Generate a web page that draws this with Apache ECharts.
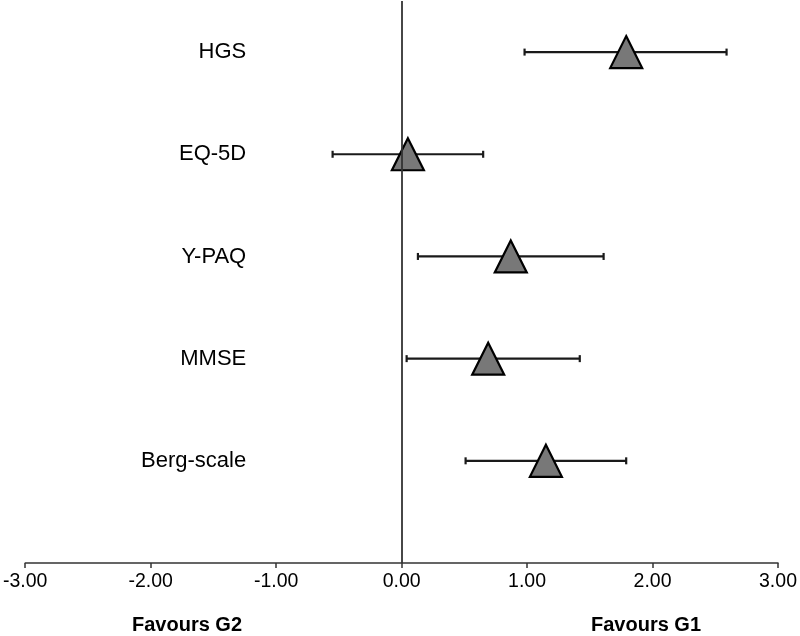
<!DOCTYPE html>
<html>
<head>
<meta charset="utf-8">
<script src="https://cdn.jsdelivr.net/npm/echarts@6/dist/echarts.min.js"></script>
<style>html,body{margin:0;padding:0;background:#fff}#c{width:800px;height:636px}</style>
</head>
<body>
<div id="c"></div>
<script>
const categories = ['HGS', 'EQ-5D', 'Y-PAQ', 'MMSE', 'Berg-scale'];
const estimates = [1.79, 0.05, 0.87, 0.69, 1.15];
const lower = [0.98, -0.55, 0.13, 0.04, 0.51];
const upper = [2.59, 0.65, 1.61, 1.42, 1.79];
const xTickValues = [-3, -2, -1, 0, 1, 2, 3];
const sideLabels = ['Favours G2', 'Favours G1'];

const FONT = '"Liberation Sans", Arial, Helvetica, sans-serif';
const n = categories.length;
const yPos = categories.map((c, i) => n - i);
const nameAt = {};
categories.forEach((c, i) => { nameAt[yPos[i]] = c; });

const chart = echarts.init(document.getElementById('c'), null, {renderer: 'canvas'});
chart.setOption({
  animation: false,
  backgroundColor: '#fff',
  grid: {left: 24, right: 22, top: 1, bottom: 73},
  xAxis: {
    type: 'value',
    min: xTickValues[0],
    max: xTickValues[xTickValues.length - 1],
    interval: 1,
    splitLine: {show: false},
    axisLine: {show: true, onZero: false, lineStyle: {color: '#333', width: 1.5}},
    axisTick: {show: true, length: 5, lineStyle: {color: '#333', width: 1.5}},
    axisLabel: {margin: 9, color: '#000', fontSize: 19.5, fontFamily: FONT,
      formatter: v => v.toFixed(2)}
  },
  yAxis: {
    type: 'value',
    min: 0,
    max: 5.5,
    interval: 1,
    position: 'left',
    offset: -221,
    splitLine: {show: false},
    axisLine: {show: false},
    axisTick: {show: false},
    axisLabel: {margin: 0, color: '#000', fontSize: 22, fontFamily: FONT,
      showMinLabel: true, showMaxLabel: true,
      formatter: v => nameAt[v] || ''}
  },
  graphic: [
    {type: 'text', left: 132, top: 615,
     style: {text: sideLabels[0], font: 'bold 20px ' + FONT, fill: '#000'}},
    {type: 'text', left: 591, top: 615,
     style: {text: sideLabels[1], font: 'bold 20px ' + FONT, fill: '#000'}}
  ],
  series: [
    {
      type: 'custom',
      z: 2,
      data: categories.map((c, i) => [lower[i], upper[i], yPos[i]]),
      renderItem: function (params, api) {
        const lo = api.coord([api.value(0), api.value(2)]);
        const hi = api.coord([api.value(1), api.value(2)]);
        const cap = 3.5;
        const st = {stroke: '#1a1a1a', lineWidth: 2.2};
        return {
          type: 'group',
          children: [
            {type: 'line', shape: {x1: lo[0], y1: lo[1], x2: hi[0], y2: hi[1]}, style: st},
            {type: 'line', shape: {x1: lo[0], y1: lo[1] - cap, x2: lo[0], y2: lo[1] + cap}, style: st},
            {type: 'line', shape: {x1: hi[0], y1: hi[1] - cap, x2: hi[0], y2: hi[1] + cap}, style: st}
          ]
        };
      }
    },
    {
      type: 'scatter',
      z: 3,
      symbol: 'triangle',
      symbolSize: [32, 32],
      itemStyle: {color: '#787878', borderColor: '#000', borderWidth: 2.2, opacity: 1},
      data: categories.map((c, i) => [estimates[i], yPos[i]]),
      markLine: {
        silent: true,
        symbol: 'none',
        label: {show: false},
        lineStyle: {color: '#333', width: 1.8, type: 'solid'},
        data: [{xAxis: 0}]
      }
    }
  ]
});
</script>
</body>
</html>
